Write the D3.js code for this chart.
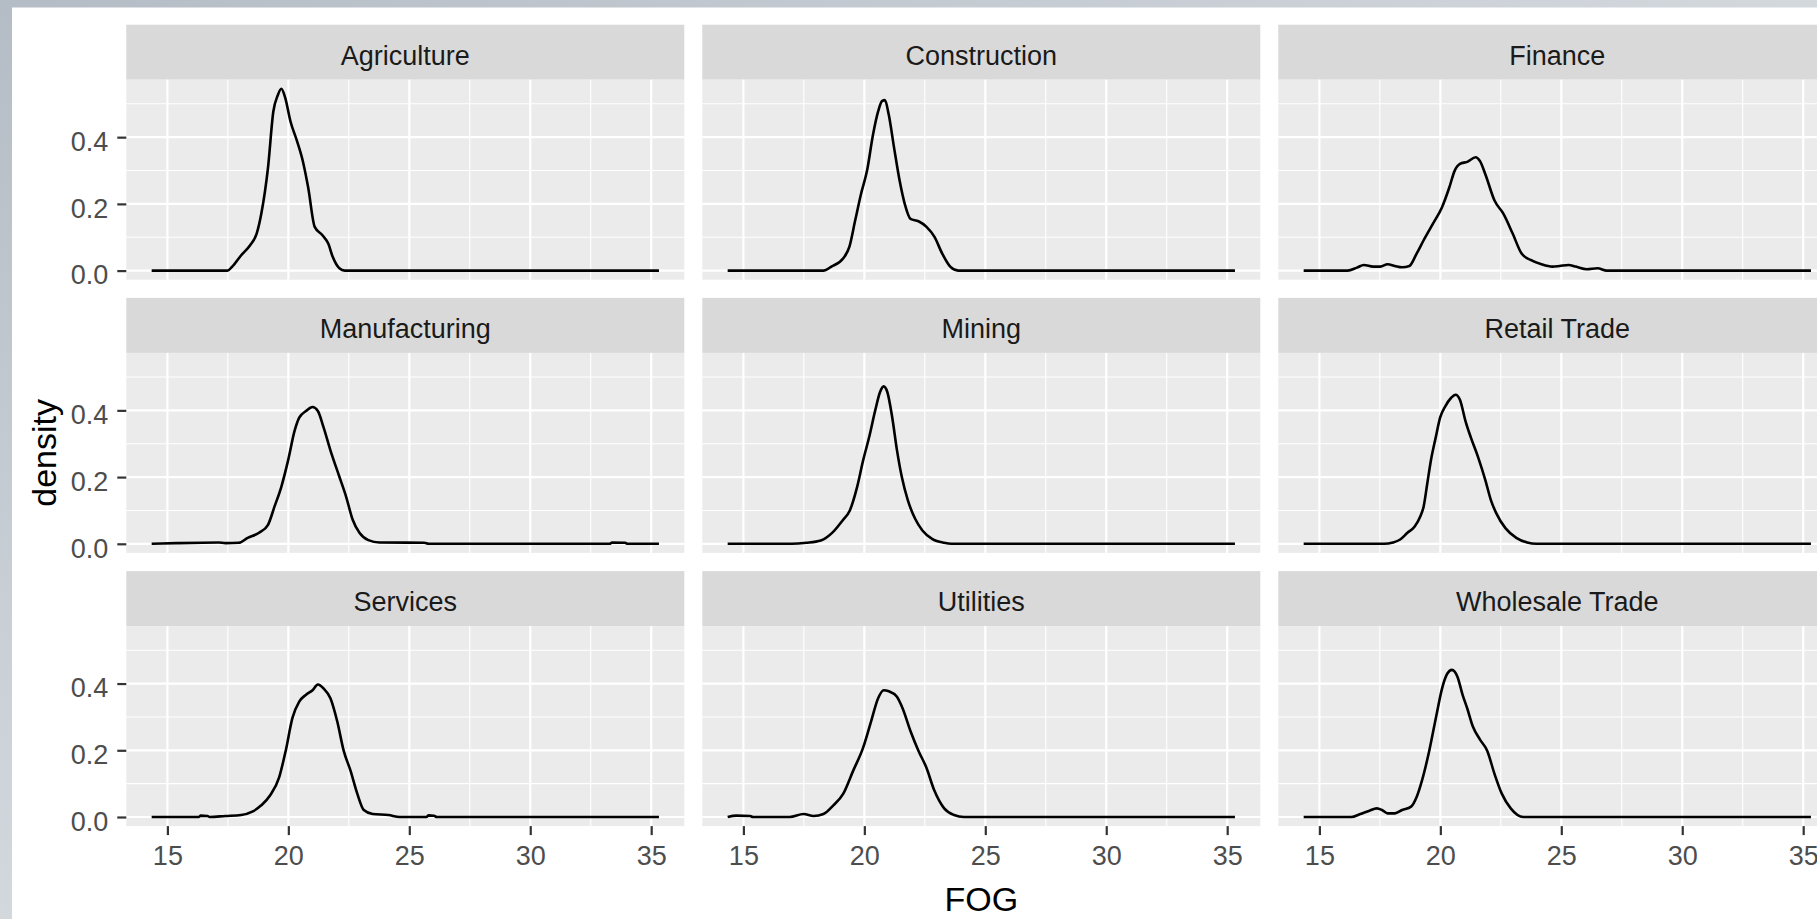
<!DOCTYPE html>
<html>
<head>
<meta charset="utf-8">
<script src="https://cdn.jsdelivr.net/npm/d3@7"></script>
<style>
  html, body { margin: 0; padding: 0; overflow: hidden; background: #fff; }
  text { font-family: "Liberation Sans", Arial, Helvetica, sans-serif; }
</style>
</head>
<body>
<script>
// facet labels, in reading order
var industries = ["Agriculture", "Construction", "Finance",
                  "Manufacturing", "Mining", "Retail Trade",
                  "Services", "Utilities", "Wholesale Trade"];

// [FOG, density] pairs
var agriculture = [[14.35, 0], [17.49, 0], [17.68, 0.012], [18.05, 0.046], [18.42, 0.076], [18.69, 0.111],
    [18.88, 0.17], [19.16, 0.309], [19.38, 0.477], [19.56, 0.525], [19.71, 0.545], [19.86, 0.521],
    [20.09, 0.447], [20.36, 0.388], [20.6, 0.328], [20.82, 0.249], [21.09, 0.131], [21.41, 0.106],
    [21.65, 0.081], [21.83, 0.042], [22.11, 0.007], [22.33, 0], [35.32, 0]];

var construction = [[14.35, 0], [18.31, 0], [18.64, 0.012], [19.13, 0.037], [19.38, 0.071], [19.62, 0.15],
    [19.86, 0.229], [20.11, 0.299], [20.36, 0.408], [20.57, 0.477], [20.73, 0.508], [20.85, 0.511],
    [21.01, 0.467], [21.23, 0.368], [21.46, 0.269], [21.67, 0.2], [21.91, 0.155], [22.24, 0.148],
    [22.57, 0.131], [22.9, 0.101], [23.22, 0.051], [23.55, 0.012], [23.88, 0], [35.32, 0]];

var finance = [[14.35, 0], [16.17, 0], [16.55, 0.009], [16.84, 0.017], [17.22, 0.012], [17.52, 0.012],
    [17.82, 0.019], [18.12, 0.014], [18.42, 0.01], [18.72, 0.014], [19.02, 0.051], [19.31, 0.091],
    [19.69, 0.14], [20.07, 0.19], [20.37, 0.249], [20.59, 0.299], [20.81, 0.32], [21.11, 0.326],
    [21.46, 0.34], [21.64, 0.328], [21.86, 0.289], [22.24, 0.21], [22.61, 0.17], [22.99, 0.111],
    [23.36, 0.051], [23.73, 0.032], [24.18, 0.019], [24.63, 0.012], [24.93, 0.014], [25.3, 0.017],
    [25.6, 0.012], [26.05, 0.004], [26.5, 0.007], [26.88, 0], [35.32, 0]];

var manufacturing = [[14.35, 0], [15.37, 0.002], [17.12, 0.004], [17.4, 0.002], [17.95, 0.003], [18.32, 0.018],
    [18.79, 0.033], [19.16, 0.057], [19.43, 0.112], [19.71, 0.171], [19.99, 0.25], [20.26, 0.339],
    [20.45, 0.378], [20.73, 0.398], [21.0, 0.41], [21.22, 0.398], [21.46, 0.348], [21.74, 0.28],
    [22.11, 0.201], [22.39, 0.141], [22.66, 0.072], [22.94, 0.033], [23.31, 0.011], [23.77, 0.004],
    [25.62, 0.003], [25.8, 0], [33.28, 0], [33.38, 0.004], [33.93, 0.003], [34.02, 0], [35.32, 0]];

var mining = [[14.35, 0], [17.0, 0], [17.6, 0.003], [18.2, 0.01], [18.7, 0.035], [19.1, 0.07], [19.4, 0.1],
    [19.7, 0.17], [19.95, 0.25], [20.2, 0.32], [20.45, 0.4], [20.65, 0.455], [20.8, 0.472], [20.95, 0.455],
    [21.15, 0.38], [21.35, 0.28], [21.55, 0.2], [21.8, 0.13], [22.1, 0.075], [22.4, 0.04], [22.8, 0.015],
    [23.3, 0.003], [23.6, 0], [35.32, 0]];

var retailTrade = [[14.35, 0], [17.67, 0], [18.04, 0.004], [18.34, 0.013], [18.64, 0.033], [18.94, 0.052],
    [19.17, 0.082], [19.31, 0.112], [19.46, 0.181], [19.61, 0.25], [19.81, 0.319], [19.99, 0.378],
    [20.21, 0.413], [20.44, 0.437], [20.63, 0.447], [20.81, 0.432], [21.04, 0.368], [21.26, 0.319],
    [21.56, 0.26], [21.86, 0.191], [22.09, 0.131], [22.31, 0.092], [22.69, 0.047], [23.14, 0.018],
    [23.59, 0.004], [23.96, 0], [35.32, 0]];

var services = [[14.35, 0], [16.29, 0], [16.38, 0.004], [16.66, 0.003], [16.75, 0], [17.4, 0.003],
    [18.05, 0.006], [18.51, 0.016], [18.88, 0.035], [19.25, 0.065], [19.62, 0.119], [19.89, 0.198],
    [20.17, 0.297], [20.45, 0.346], [20.72, 0.366], [21.0, 0.38], [21.22, 0.397], [21.46, 0.385],
    [21.74, 0.356], [22.02, 0.287], [22.29, 0.198], [22.57, 0.139], [22.85, 0.07], [23.12, 0.021],
    [23.49, 0.009], [24.14, 0.006], [24.6, 0], [25.71, 0], [25.8, 0.005], [26.02, 0.004], [26.14, 0],
    [35.32, 0]];

var utilities = [[14.35, 0], [14.71, 0.004], [15.28, 0.003], [15.39, 0], [16.91, 0], [17.49, 0.009],
    [17.9, 0.003], [18.31, 0.009], [18.72, 0.035], [19.13, 0.07], [19.54, 0.139], [19.95, 0.208],
    [20.28, 0.287], [20.57, 0.356], [20.8, 0.38], [21.01, 0.377], [21.34, 0.361], [21.58, 0.326],
    [21.91, 0.257], [22.24, 0.198], [22.56, 0.149], [22.89, 0.08], [23.3, 0.026], [23.71, 0.006],
    [24.12, 0], [35.32, 0]];

var wholesaleTrade = [[14.35, 0], [16.32, 0], [16.69, 0.009], [17.07, 0.019], [17.37, 0.026], [17.59, 0.021],
    [17.82, 0.011], [18.12, 0.011], [18.42, 0.021], [18.79, 0.031], [19.02, 0.06], [19.24, 0.109],
    [19.54, 0.198], [19.84, 0.306], [20.07, 0.385], [20.29, 0.43], [20.48, 0.441], [20.71, 0.42],
    [20.92, 0.366], [21.11, 0.326], [21.34, 0.272], [21.64, 0.232], [21.94, 0.198], [22.24, 0.129],
    [22.54, 0.07], [22.91, 0.026], [23.43, 0], [35.32, 0]];

var curves = [agriculture, construction, finance, manufacturing, mining,
              retailTrade, services, utilities, wholesaleTrade];

var fogTicks = [15, 20, 25, 30, 35];
var fogMinor = [17.5, 22.5, 27.5, 32.5];
var densityTicks = [0, 0.2, 0.4];
var densityMinor = [0.1, 0.3, 0.5];

var w = 1817,
    h = 919,
    panelLeft = 126.3,
    colStep = 576,
    panelW = 558,
    stripTop = 24.7,
    rowStep = 273.2,
    stripH = 55,
    panelH = 200;

var svg = d3.select("body").append("svg")
    .attr("width", w)
    .attr("height", h);

// the screenshot sits on a grey photo backdrop
var grad = svg.append("defs").append("linearGradient")
    .attr("id", "backdrop")
    .attr("x1", 0).attr("y1", 0).attr("x2", 1).attr("y2", 1);
grad.append("stop").attr("offset", "0%").attr("stop-color", "#b4bcc5");
grad.append("stop").attr("offset", "50%").attr("stop-color", "#d3d8dd");
grad.append("stop").attr("offset", "100%").attr("stop-color", "#c2c9d0");

svg.append("rect").attr("width", w).attr("height", h).attr("fill", "url(#backdrop)");
svg.append("rect").attr("x", 12).attr("y", 7.5).attr("width", w).attr("height", h).attr("fill", "#fff");

// ggplot style expansion of 5% on both scales
var allPts = d3.merge(curves),
    fogExt = d3.extent(allPts, function(d) { return d[0]; }),
    fogPad = (fogExt[1] - fogExt[0]) * 0.05,
    denMax = d3.max(allPts, function(d) { return d[1]; }),
    denPad = denMax * 0.05;

var x = d3.scaleLinear().domain([fogExt[0] - fogPad, fogExt[1] + fogPad]).range([0, panelW]),
    y = d3.scaleLinear().domain([-denPad, denMax + denPad]).range([panelH, 0]);

var line = d3.line()
    .x(function(d) { return x(d[0]); })
    .y(function(d) { return y(d[1]); })
    .curve(d3.curveMonotoneX);

function styleAxis(a) {
    a.attr("font-family", null).attr("font-size", null);
    a.select(".domain").remove();
    a.selectAll(".tick line").attr("stroke", "#333333").attr("stroke-width", 2.2);
    a.selectAll(".tick text").attr("fill", "#4d4d4d").style("font-size", "27px");
}

industries.forEach(function(name, i) {
    var col = i % 3,
        row = Math.floor(i / 3);

    var g = svg.append("g")
        .attr("transform", "translate(" + (panelLeft + col * colStep) + "," + (stripTop + row * rowStep) + ")");

    g.append("rect")
        .attr("width", panelW)
        .attr("height", stripH)
        .attr("fill", "#d9d9d9");

    g.append("text")
        .attr("x", panelW / 2)
        .attr("y", 40)
        .attr("text-anchor", "middle")
        .attr("fill", "#1a1a1a")
        .style("font-size", "27px")
        .text(name);

    var p = g.append("g").attr("transform", "translate(0," + stripH + ")");

    p.append("rect")
        .attr("width", panelW)
        .attr("height", panelH)
        .attr("fill", "#ebebeb");

    p.selectAll(".vminor").data(fogMinor).enter().append("line")
        .attr("x1", x).attr("x2", x).attr("y1", 0).attr("y2", panelH)
        .attr("stroke", "#fff").attr("stroke-width", 1.1);
    p.selectAll(".hminor").data(densityMinor).enter().append("line")
        .attr("y1", y).attr("y2", y).attr("x1", 0).attr("x2", panelW)
        .attr("stroke", "#fff").attr("stroke-width", 1.1);
    p.selectAll(".vmajor").data(fogTicks).enter().append("line")
        .attr("x1", x).attr("x2", x).attr("y1", 0).attr("y2", panelH)
        .attr("stroke", "#fff").attr("stroke-width", 2.2);
    p.selectAll(".hmajor").data(densityTicks).enter().append("line")
        .attr("y1", y).attr("y2", y).attr("x1", 0).attr("x2", panelW)
        .attr("stroke", "#fff").attr("stroke-width", 2.2);

    p.append("path")
        .datum(curves[i])
        .attr("d", line)
        .attr("fill", "none")
        .attr("stroke", "#000")
        .attr("stroke-width", 2.6)
        .attr("stroke-linejoin", "round");

    if (col === 0) {
        var ya = p.append("g")
            .call(d3.axisLeft(y).tickValues(densityTicks).tickFormat(d3.format(".1f")).tickSize(9).tickPadding(9));
        styleAxis(ya);
        ya.selectAll(".tick text").attr("dy", "0.49em");
    }
    if (row === 2) {
        var xa = p.append("g")
            .attr("transform", "translate(0," + panelH + ")")
            .call(d3.axisBottom(x).tickValues(fogTicks).tickSize(9).tickPadding(11));
        styleAxis(xa);
    }
});

// axis titles
svg.append("text")
    .attr("x", panelLeft + (2 * colStep + panelW) / 2)
    .attr("y", 910.7)
    .attr("text-anchor", "middle")
    .attr("fill", "#000")
    .style("font-size", "34px")
    .text("FOG");

svg.append("text")
    .attr("transform", "translate(56," + (stripTop + stripH + (2 * rowStep + panelH) / 2) + ") rotate(-90)")
    .attr("text-anchor", "middle")
    .attr("fill", "#000")
    .style("font-size", "34px")
    .text("density");
</script>
</body>
</html>
